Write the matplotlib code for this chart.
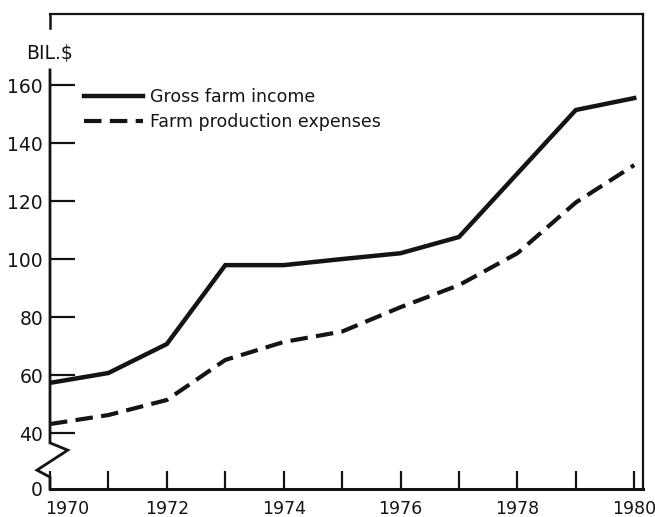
import numpy as np
import matplotlib as mpl
import matplotlib.pyplot as plt
from matplotlib.transforms import ScaledTranslation

years    = [1970, 1971, 1972, 1973, 1974, 1975, 1976, 1977, 1978, 1979, 1980]
gross    = [57.3, 60.7, 70.7, 97.9, 97.9, 100.0, 102.0, 107.6, 129.5, 151.4, 155.5]
expenses = [43.1, 46.2, 51.4, 65.2, 71.4, 75.0, 83.4, 91.0, 102.0, 119.5, 132.4]

ytick_vals   = [40, 60, 80, 100, 120, 140, 160]
xtick_labels = ["1970", "", "1972", "", "1974", "", "1976", "", "1978", "", "1980"]

# the value axis is broken between 0 and 40; the bottom of the axes stands for 0
ybottom, ytop = 20.7, 184.5
ink = "#141414"

mpl.rcParams["font.family"] = "DejaVu Sans"

fig = plt.figure( figsize=(6.55, 5.17), dpi=100 )
ax  = fig.add_axes( [50/655, 1 - 489/517, 593/655, 475/517] )

ax.plot( years, gross, color=ink, linewidth=3.2, solid_joinstyle="miter",
         label="Gross farm income" )
ax.plot( years, expenses, color=ink, linewidth=3.0, dashes=(4.2, 2.0),
         dash_capstyle="butt", label="Farm production expenses" )

ax.set_xlim( 1970, 1980.15 )
ax.set_ylim( ybottom, ytop )

ax.set_xticks( years )
ax.set_xticklabels( xtick_labels )
ax.set_yticks( [ybottom] + ytick_vals )
ax.set_yticklabels( ["0"] + [str(v) for v in ytick_vals] )
ax.yaxis.get_major_ticks()[0].tick1line.set_visible( False )

ax.tick_params( axis="x", direction="in", length=13, width=1.6, pad=8,
                labelsize=12.5, colors=ink )
ax.tick_params( axis="y", direction="in", length=18, width=1.6, pad=5,
                labelsize=13.5, colors=ink )

# first year label sits just right of the corner
first = ax.get_xticklabels()[0]
first.set_horizontalalignment( "left" )
first.set_transform( first.get_transform() + ScaledTranslation( -5/100, 0, fig.dpi_scale_trans ) )

for side in ( "top", "right" ):
    ax.spines[side].set_linewidth( 1.6 )
    ax.spines[side].set_color( ink )
ax.spines["bottom"].set_linewidth( 2.2 )
ax.spines["bottom"].set_color( ink )
ax.spines["left"].set_visible( False )

# left axis drawn by hand: short stub under the frame, gap for the unit label,
# then the axis down to the zigzag break
ytrans = ax.get_yaxis_transform()
ax.plot( (0, 0), (ytop, 179.7), transform=ytrans, color=ink, linewidth=1.8, clip_on=False )
ax.plot( (0, 0, 0.030, -0.022, 0, 0), (165.2, 36.6, 34.1, 27.2, 24.8, ybottom),
         transform=ytrans, color=ink, linewidth=2.0, clip_on=False,
         solid_joinstyle="miter" )

ax.text( 0, 171.0, "BIL.$", transform=ytrans, ha="center", va="center",
         fontsize=13.5, color=ink )

ax.legend( loc="upper left", bbox_to_anchor=(84/655, 1 - 88/517),
           bbox_transform=fig.transFigure, frameon=False, fontsize=12.5,
           handlelength=3.4, handletextpad=0.4, labelspacing=0.4,
           borderpad=0, borderaxespad=0, labelcolor=ink )

plt.savefig( "out.png", dpi=100 )
